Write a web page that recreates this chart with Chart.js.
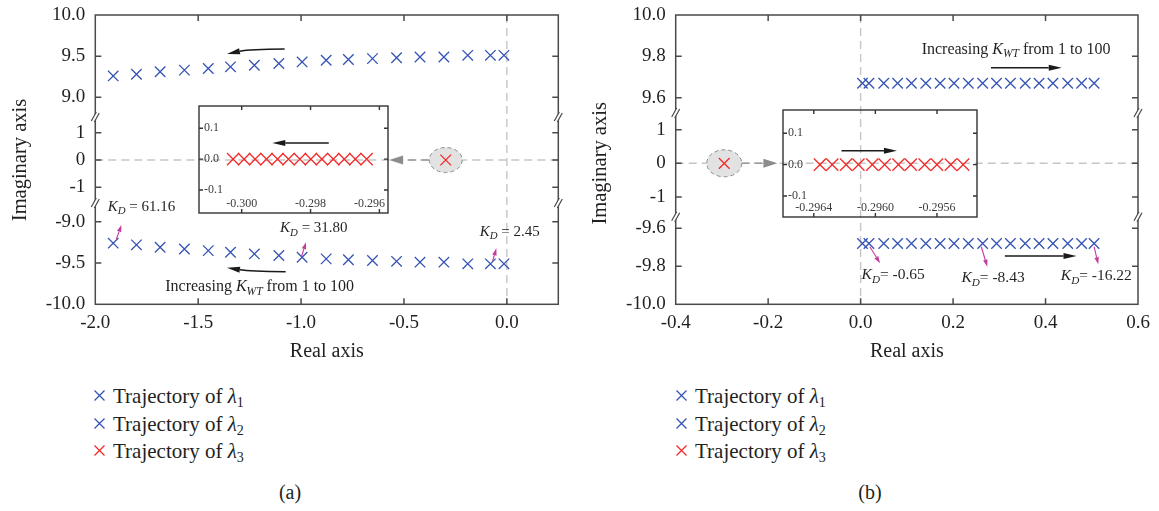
<!DOCTYPE html>
<html>
<head>
<meta charset="utf-8">
<title>Eigenvalue trajectories</title>
<script src="https://cdn.jsdelivr.net/npm/chart.js@4.4.1/dist/chart.umd.min.js"></script>
<style>
  html, body { margin: 0; padding: 0; background: #fff; }
  body { width: 1159px; height: 511px; position: relative; overflow: hidden;
         font-family: "Liberation Serif", "DejaVu Serif", "Times New Roman", serif; color: #231f20; }
  canvas { position: absolute; }
  .row { position: absolute; height: 28px; line-height: 28px; font-size: 21px; white-space: nowrap; }
  .row svg { position: absolute; left: -19px; top: 8px; }
  .row sub { font-size: 14px; vertical-align: -4px; line-height: 0; }
  .cap { position: absolute; font-size: 20px; transform: translateX(-50%); }
</style>
</head>
<body>
<canvas id="mainA" width="580" height="370" style="left:0;top:0"></canvas>
<canvas id="zoomA" width="202" height="109" style="left:198px;top:105px"></canvas>
<canvas id="mainB" width="579" height="370" style="left:580px;top:0"></canvas>
<canvas id="zoomB" width="196" height="109" style="left:782px;top:109px"></canvas>
<div id="legA"></div>
<div id="legB"></div>
<div class="cap" style="left:290px;top:481px">(a)</div>
<div class="cap" style="left:870px;top:481px">(b)</div>

<script>
// ---- panel (a) ----
const realA = [-1.913, -1.800, -1.685, -1.567, -1.451, -1.343, -1.227, -1.108, -0.995,
               -0.878, -0.770, -0.653, -0.536, -0.422, -0.306, -0.190, -0.080, -0.014];
const lambda1A = [9.26, 9.28, 9.31, 9.33, 9.35, 9.37, 9.39, 9.41, 9.43,
                  9.45, 9.46, 9.47, 9.48, 9.49, 9.49, 9.51, 9.51, 9.51];
const lambda2A = [-9.26, -9.28, -9.31, -9.33, -9.35, -9.37, -9.39, -9.41, -9.43,
                  -9.45, -9.46, -9.47, -9.48, -9.49, -9.49, -9.51, -9.51, -9.51];
const lambda3A = [-0.297];
const lambda3ZoomA = [-0.30025, -0.29993, -0.29961, -0.29928, -0.29896, -0.29864, -0.29831,
                      -0.29799, -0.29767, -0.29734, -0.29702, -0.29670, -0.29637];

// ---- panel (b) ----
const realB = [0.004, 0.018, 0.050, 0.080, 0.110, 0.141, 0.172, 0.202, 0.233,
               0.264, 0.294, 0.324, 0.356, 0.386, 0.416, 0.448, 0.478, 0.505];
const lambda1B = [9.67, 9.67, 9.67, 9.67, 9.67, 9.67, 9.67, 9.67, 9.67,
                  9.67, 9.67, 9.67, 9.67, 9.67, 9.67, 9.67, 9.67, 9.67];
const lambda2B = [-9.68, -9.68, -9.68, -9.68, -9.68, -9.68, -9.68, -9.68, -9.68,
                  -9.68, -9.68, -9.68, -9.68, -9.68, -9.68, -9.68, -9.68, -9.68];
const lambda3B = [-0.295];
const lambda3ZoomB = [-0.29636, -0.29628, -0.29619, -0.29611, -0.29602, -0.29594,
                      -0.29585, -0.29577, -0.29568, -0.29560, -0.29551, -0.29543];

// ---- ticks and labels ----
const xTicksA = [-2.0, -1.5, -1.0, -0.5, 0.0];
const topTicksA = [9.0, 9.5, 10.0];
const botTicksA = [-10.0, -9.5, -9.0];
const xTicksB = [-0.4, -0.2, 0.0, 0.2, 0.4, 0.6];
const topTicksB = [9.6, 9.8, 10.0];
const botTicksB = [-10.0, -9.8, -9.6];
const midTicks = [-1, 0, 1];
const zoomXTicksA = [-0.300, -0.298, -0.296];
const zoomXTicksB = [-0.2964, -0.2960, -0.2956];
const zoomYTicks = [-0.1, 0.0, 0.1];
const kdLabelsA = [' = 61.16', ' = 31.80', ' = 2.45'];
const kdLabelsB = ['= -0.65', '= -8.43', '= -16.22'];
const legendSubs = ['1', '2', '3'];

const ink = '#231f20';
const serif = '"Liberation Serif", "DejaVu Serif", "Times New Roman", serif';
const blue = '#3453b4';
const red = '#f22b2b';
const magenta = '#c43d9e';
const frameColor = '#4a4a4a';

Chart.defaults.font.family = serif;
Chart.defaults.color = ink;

function pts(xs, ys) {
  return xs.map((x, i) => ({x: x, y: ys[i]}));
}

function useTicks(values) {
  return function (scale) { scale.ticks = values.map(v => ({value: v})); };
}

function fixSize(w, h) {
  return function (scale) {
    if (w !== null) scale.width = w;
    if (h !== null) scale.height = h;
    scale.paddingLeft = 0; scale.paddingRight = 0;
    scale.paddingTop = 0; scale.paddingBottom = 0;
  };
}

function arrow(ctx, x1, y1, x2, y2, color, lw, hl, hw, cx, cy) {
  const ang = cx === undefined ? Math.atan2(y2 - y1, x2 - x1) : Math.atan2(y2 - cy, x2 - cx);
  const bx = x2 - Math.cos(ang) * hl, by = y2 - Math.sin(ang) * hl;
  ctx.strokeStyle = color; ctx.fillStyle = color; ctx.lineWidth = lw;
  ctx.beginPath();
  ctx.moveTo(x1, y1);
  if (cx === undefined) ctx.lineTo(bx, by); else ctx.quadraticCurveTo(cx, cy, bx, by);
  ctx.stroke();
  ctx.beginPath();
  ctx.moveTo(x2, y2);
  ctx.lineTo(bx + Math.sin(ang) * hw / 2, by - Math.cos(ang) * hw / 2);
  ctx.lineTo(bx - Math.sin(ang) * hw / 2, by + Math.cos(ang) * hw / 2);
  ctx.closePath();
  ctx.fill();
}

// text with italic K and a subscript
function richText(ctx, x, y, parts, size) {
  ctx.textBaseline = 'middle'; ctx.textAlign = 'left'; ctx.fillStyle = ink;
  let cx = x;
  parts.forEach(p => {
    const s = p.sub ? size * 0.72 : size;
    ctx.font = (p.it ? 'italic ' : '') + s + 'px ' + serif;
    ctx.fillText(p.t, cx, y + (p.sub ? size * 0.32 : 0));
    cx += ctx.measureText(p.t).width;
  });
}

function drawBreak(ctx, x, y) {
  ctx.fillStyle = '#fff';
  ctx.beginPath();
  ctx.moveTo(x - 4, y + 4); ctx.lineTo(x + 1, y - 5);
  ctx.lineTo(x + 4, y - 4); ctx.lineTo(x - 1, y + 5);
  ctx.closePath(); ctx.fill();
  ctx.lineWidth = 1.2;
  ctx.beginPath();
  ctx.moveTo(x - 4, y + 4); ctx.lineTo(x + 1, y - 5);
  ctx.moveTo(x - 1, y + 5); ctx.lineTo(x + 4, y - 4);
  ctx.stroke();
}

function framePlugin(yIds, tickLen, breaks, color, lw) {
  return {
    id: 'frame',
    afterDatasetsDraw(chart) {
      const {ctx, chartArea: a, scales} = chart;
      ctx.save();
      ctx.strokeStyle = color; ctx.lineWidth = lw;
      ctx.strokeRect(a.left, a.top, a.right - a.left, a.bottom - a.top);
      ctx.beginPath();
      yIds.forEach(id => {
        const s = scales[id];
        s.ticks.forEach(t => {
          const p = s.getPixelForValue(t.value);
          if (p <= a.top + 1 || p >= a.bottom - 1) return;
          ctx.moveTo(a.left, p); ctx.lineTo(a.left + tickLen, p);
          ctx.moveTo(a.right, p); ctx.lineTo(a.right - tickLen, p);
        });
      });
      scales.x.ticks.forEach(t => {
        const p = scales.x.getPixelForValue(t.value);
        if (p <= a.left + 1 || p >= a.right - 1) return;
        ctx.moveTo(p, a.top); ctx.lineTo(p, a.top + tickLen);
        ctx.moveTo(p, a.bottom); ctx.lineTo(p, a.bottom - tickLen);
      });
      ctx.stroke();
      if (breaks) {
        ctx.strokeStyle = color;
        [scales.yTop.bottom, scales.yMid.bottom].forEach(y => {
          drawBreak(ctx, a.left, y);
          drawBreak(ctx, a.right, y);
        });
      }
      ctx.restore();
    }
  };
}

function overlayPlugin(cfg) {
  return {
    id: 'overlay',
    beforeDatasetsDraw(chart) {
      const {ctx, chartArea: a, scales: {x, yMid}} = chart;
      const y0 = yMid.getPixelForValue(0), x0 = x.getPixelForValue(0);
      ctx.save();
      ctx.strokeStyle = '#c6c6c6'; ctx.lineWidth = 1.4; ctx.setLineDash([8, 5]);
      ctx.beginPath();
      ctx.moveTo(a.left, y0); ctx.lineTo(a.right, y0);
      ctx.moveTo(x0, a.top); ctx.lineTo(x0, a.bottom);
      ctx.stroke();
      const ex = x.getPixelForValue(cfg.lambda3[0]);
      const tip = x.getPixelForValue(cfg.linkTip);
      const dir = tip < ex ? -1 : 1;
      ctx.strokeStyle = '#9a9a9a';
      ctx.beginPath();
      ctx.moveTo(ex + dir * cfg.ell[0], y0); ctx.lineTo(tip - dir * 12, y0);
      ctx.stroke();
      ctx.setLineDash([]);
      ctx.fillStyle = '#8c8c8c';
      ctx.beginPath();
      ctx.moveTo(tip, y0); ctx.lineTo(tip - dir * 14, y0 - 4.5); ctx.lineTo(tip - dir * 14, y0 + 4.5);
      ctx.closePath(); ctx.fill();
      ctx.setLineDash([4, 3]);
      ctx.fillStyle = '#e2e2e2'; ctx.strokeStyle = '#8a8a8a'; ctx.lineWidth = 1;
      ctx.beginPath();
      ctx.ellipse(ex, y0, cfg.ell[0], cfg.ell[1], 0, 0, Math.PI * 2);
      ctx.fill(); ctx.stroke();
      ctx.restore();
    },
    afterDatasetsDraw(chart) {
      const {ctx, scales} = chart;
      const px = v => scales.x.getPixelForValue(v);
      const py = (id, v) => scales[id].getPixelForValue(v);
      ctx.save();
      cfg.flow.forEach(f => {
        const cx = f.bend ? px(f.bend[0]) : undefined;
        const cy = f.bend ? py(f.axis, f.bend[1]) : undefined;
        arrow(ctx, px(f.from[0]), py(f.axis, f.from[1]), px(f.to[0]), py(f.axis, f.to[1]),
              '#1a1a1a', 1.5, 13, 6, cx, cy);
      });
      const t = cfg.title;
      richText(ctx, px(t.x), py(t.axis, t.y),
               [{t: 'Increasing '}, {t: 'K', it: true}, {t: 'WT', it: true, sub: true}, {t: ' from 1 to 100'}], 16);
      cfg.kd.forEach((k, i) => {
        arrow(ctx, px(k.from[0]), py('yBot', k.from[1]), px(k.to[0]), py('yBot', k.to[1]),
              magenta, 1.1, 7, 4.5);
        richText(ctx, px(k.tx), py('yBot', k.ty),
                 [{t: 'K', it: true}, {t: 'D', it: true, sub: true}, {t: cfg.kdLabels[i]}], cfg.kdSize);
      });
      ctx.restore();
    }
  };
}

function yScale(min, max, ticks, weight, width, fmt) {
  return {
    type: 'linear', position: 'left', stack: 'imag', stackWeight: weight,
    min: min, max: max,
    grid: {display: false, drawTicks: false}, border: {display: false},
    afterBuildTicks: useTicks(ticks), afterFit: fixSize(width, null),
    ticks: {padding: 10, autoSkip: false, font: {size: 19}, color: ink, callback: fmt}
  };
}

function mainChart(id, cfg) {
  const blueStyle = {pointStyle: 'crossRot', pointRadius: 7.4, pointBorderWidth: 1.3,
                     borderColor: blue, backgroundColor: blue};
  return new Chart(document.getElementById(id), {
    type: 'scatter',
    data: {
      datasets: [
        Object.assign({label: 'Trajectory of λ1', data: pts(cfg.real, cfg.lambda1), yAxisID: 'yTop'}, blueStyle),
        Object.assign({label: 'Trajectory of λ2', data: pts(cfg.real, cfg.lambda2), yAxisID: 'yBot'}, blueStyle),
        {label: 'Trajectory of λ3', data: pts(cfg.lambda3, [0]), yAxisID: 'yMid',
         pointStyle: 'crossRot', pointRadius: 7.6, pointBorderWidth: 1.3, borderColor: red, backgroundColor: red}
      ]
    },
    options: {
      responsive: false, animation: false, events: [],
      layout: {autoPadding: false, padding: {top: 15, right: cfg.padRight, left: 0, bottom: 0}},
      plugins: {legend: {display: false}, tooltip: {enabled: false}},
      scales: {
        x: {
          type: 'linear', position: 'bottom', min: cfg.xRange[0], max: cfg.xRange[1],
          grid: {display: false, drawTicks: false}, border: {display: false},
          afterBuildTicks: useTicks(cfg.xTicks), afterFit: fixSize(null, 65.7),
          ticks: {padding: 7, autoSkip: false, maxRotation: 0, font: {size: 19}, color: ink,
                  callback: v => v.toFixed(1)},
          title: {display: true, text: 'Real axis', font: {size: 20}, color: ink, padding: {top: 0, bottom: 6}}
        },
        yBot: yScale(-10, cfg.botMax, cfg.botTicks, cfg.weights[2], cfg.yWidth, v => v.toFixed(1)),
        yMid: yScale(cfg.midRange[0], cfg.midRange[1], midTicks, cfg.weights[1], cfg.yWidth, v => String(v)),
        yTop: yScale(cfg.topMin, 10, cfg.topTicks, cfg.weights[0], cfg.yWidth, v => v.toFixed(1))
      }
    },
    plugins: [overlayPlugin(cfg), framePlugin(['yTop', 'yMid', 'yBot'], 6, true, frameColor, 1.5), {
      id: 'ytitle',
      afterDraw(chart) {
        const {ctx, scales: {yMid}} = chart;
        ctx.save();
        ctx.translate(21, yMid.getPixelForValue(0));
        ctx.rotate(-Math.PI / 2);
        ctx.font = '20.5px ' + serif; ctx.fillStyle = ink;
        ctx.textAlign = 'center'; ctx.textBaseline = 'middle';
        ctx.fillText('Imaginary axis', 0, 0);
        ctx.restore();
      }
    }]
  });
}

// inset: axes are hidden from the layout, ticks and labels drawn from the scales
function zoomChart(id, cfg) {
  return new Chart(document.getElementById(id), {
    type: 'scatter',
    data: {
      datasets: [{label: 'λ3 (zoom)', data: pts(cfg.real, cfg.real.map(() => 0)),
                  pointStyle: 'crossRot', pointRadius: 8.6, pointBorderWidth: 1.3,
                  borderColor: red, backgroundColor: red}]
    },
    options: {
      responsive: false, animation: false, events: [],
      layout: {autoPadding: false, padding: {left: 1, top: 1, right: cfg.padRight, bottom: 1}},
      plugins: {legend: {display: false}, tooltip: {enabled: false}},
      scales: {
        x: {type: 'linear', display: false, min: cfg.xRange[0], max: cfg.xRange[1],
            afterBuildTicks: useTicks(cfg.xTicks)},
        y: {type: 'linear', display: false, min: cfg.yRange[0], max: cfg.yRange[1],
            afterBuildTicks: useTicks(zoomYTicks)}
      }
    },
    plugins: [framePlugin(['y'], 4, false, '#333', 1.4), {
      id: 'zoomLabels',
      afterDatasetsDraw(chart) {
        const {ctx, chartArea: a, scales: {x, y}} = chart;
        const f = cfg.flow;
        ctx.save();
        arrow(ctx, x.getPixelForValue(f.from[0]), y.getPixelForValue(f.from[1]),
              x.getPixelForValue(f.to[0]), y.getPixelForValue(f.to[1]), '#1a1a1a', 1.5, 13, 6);
        ctx.font = '12px ' + serif; ctx.fillStyle = '#3c3c3c';
        ctx.textBaseline = 'middle'; ctx.textAlign = 'left';
        y.ticks.forEach(t => {
          ctx.fillText(t.value.toFixed(1), a.left + 5, y.getPixelForValue(t.value));
        });
        ctx.textAlign = 'center';
        x.ticks.forEach(t => {
          const s = t.value.toFixed(cfg.digits);
          const w = ctx.measureText(s).width;
          let p = x.getPixelForValue(t.value);
          if (p + w / 2 > a.right - 3) p = a.right - 3 - w / 2;
          ctx.fillText(s, p, a.bottom - 9);
        });
        ctx.restore();
      }
    }]
  });
}

mainChart('mainA', {
  real: realA, lambda1: lambda1A, lambda2: lambda2A, lambda3: lambda3A,
  xRange: [-2.0, 0.25], xTicks: xTicksA, topTicks: topTicksA, botTicks: botTicksA,
  topMin: 8.7606, botMax: -8.7736, midRange: [-1.575, 1.575],
  weights: [102, 86, 101.3], yWidth: 95.3, padRight: 21.7,
  ell: [16.5, 12.5], linkTip: -0.572,
  flow: [
    {axis: 'yTop', from: [-1.080, 9.587], to: [-1.360, 9.526], bend: [-1.25, 9.585]},
    {axis: 'yBot', from: [-1.075, -9.605], to: [-1.360, -9.557], bend: [-1.25, -9.60]}
  ],
  title: {axis: 'yBot', x: -1.660, y: -9.787},
  kdLabels: kdLabelsA, kdSize: 15,
  kd: [
    {tx: -1.94, ty: -8.818, from: [-1.898, -9.213], to: [-1.873, -9.04]},
    {tx: -1.102, ty: -9.080, from: [-0.998, -9.424], to: [-0.976, -9.249]},
    {tx: -0.132, ty: -9.121, from: [-0.069, -9.476], to: [-0.051, -9.322]}
  ]
});

mainChart('mainB', {
  real: realB, lambda1: lambda1B, lambda2: lambda2B, lambda3: lambda3B,
  xRange: [-0.4, 0.6], xTicks: xTicksB, topTicks: topTicksB, botTicks: botTicksB,
  topMin: 9.526, botMax: -9.539, midRange: [-1.589, 1.497],
  weights: [98, 103.7, 87.6], yWidth: 95.7, padRight: 21,
  ell: [17.5, 13.5], linkTip: -0.18,
  flow: [
    {axis: 'yTop', from: [0.282, 9.745], to: [0.435, 9.745]},
    {axis: 'yBot', from: [0.312, -9.746], to: [0.467, -9.746]}
  ],
  title: {axis: 'yTop', x: 0.132, y: 9.834},
  kdLabels: kdLabelsB, kdSize: 15.5,
  kd: [
    {tx: 0.002, ty: -9.846, from: [0.020, -9.697], to: [0.042, -9.784]},
    {tx: 0.218, ty: -9.863, from: [0.261, -9.697], to: [0.274, -9.802]},
    {tx: 0.433, ty: -9.851, from: [0.505, -9.697], to: [0.514, -9.789]}
  ]
});

zoomChart('zoomA', {
  real: lambda3ZoomA, xRange: [-0.30124, -0.29575], yRange: [-0.1746, 0.172],
  xTicks: zoomXTicksA, digits: 3, padRight: 12,
  flow: {from: [-0.29747, 0.052], to: [-0.29911, 0.052]}
});

zoomChart('zoomB', {
  real: lambda3ZoomB, xRange: [-0.29660, -0.29534], yRange: [-0.167, 0.174],
  xTicks: zoomXTicksB, digits: 4, padRight: 1,
  flow: {from: [-0.29622, 0.044], to: [-0.29586, 0.044]}
});

// legends
function buildLegend(id, textLeft) {
  const host = document.getElementById(id);
  const colors = [blue, blue, red];
  const centers = [396, 423.5, 451];
  legendSubs.forEach((s, i) => {
    const row = document.createElement('div');
    row.className = 'row';
    row.style.left = textLeft + 'px';
    row.style.top = (centers[i] - 14) + 'px';
    row.innerHTML = '<svg width="11" height="11" viewBox="0 0 11 11"><path d="M0.5 0.5L10.5 10.5M10.5 0.5L0.5 10.5" stroke="' +
      colors[i] + '" stroke-width="1.3" fill="none"/></svg>Trajectory of <i>λ</i><sub>' + s + '</sub>';
    host.appendChild(row);
  });
}
buildLegend('legA', 113);
buildLegend('legB', 695);
</script>
</body>
</html>
